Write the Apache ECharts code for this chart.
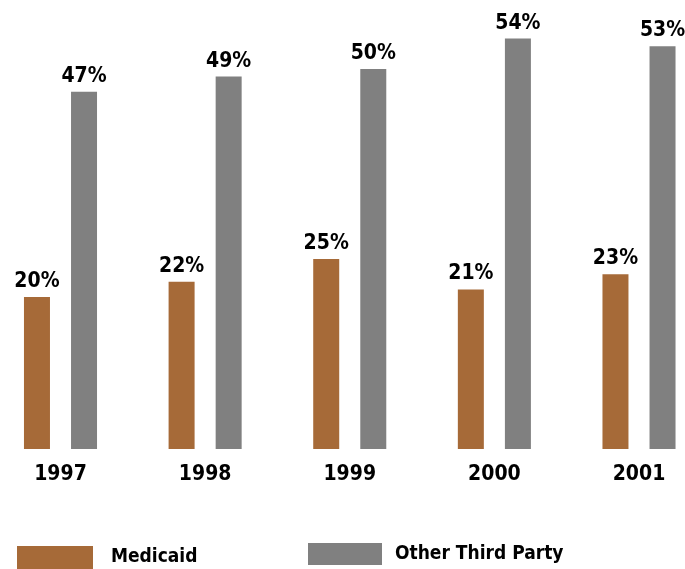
<!DOCTYPE html>
<html>
<head>
<meta charset="utf-8">
<script src="https://cdn.jsdelivr.net/npm/echarts@6/dist/echarts.min.js"></script>
<style>
  html, body { margin: 0; padding: 0; background: #ffffff; }
  #chart { width: 685px; height: 569px; }
</style>
</head>
<body>
<div id="chart"></div>
<script>
// Share of payments by source, per year (percent)
const years = ['1997', '1998', '1999', '2000', '2001'];
const medicaid = [20, 22, 25, 21, 23];
const otherThirdParty = [47, 49, 50, 54, 53];

const FONT = "'DejaVu Sans Condensed', 'Liberation Sans Narrow', sans-serif";
const BROWN = '#A66A38';
const GRAY = '#808080';

const chart = echarts.init(document.getElementById('chart'), null, { renderer: 'canvas' });

const valueLabel = {
  show: true,
  position: 'top',
  distance: 5,
  formatter: '{c}%',
  color: '#000',
  fontFamily: FONT,
  fontWeight: 'bold',
  fontSize: 21
};

chart.setOption({
  backgroundColor: '#ffffff',
  animation: false,
  // year groups sit on the axis ticks (boundaryGap off), first and last at the grid edges
  grid: { left: 60.5, right: 46, top: 31, bottom: 120 },
  xAxis: {
    type: 'category',
    data: years,
    boundaryGap: false,
    axisLine: { show: false },
    axisTick: { show: false },
    splitLine: { show: false },
    axisLabel: {
      margin: 15,
      color: '#000',
      fontFamily: FONT,
      fontWeight: 'bold',
      fontSize: 21
    }
  },
  yAxis: {
    type: 'value',
    min: 0,
    max: 55,
    show: false
  },
  legend: [
    {
      data: ['Medicaid'],
      left: 17,
      top: 546,
      padding: 0,
      itemWidth: 76,
      itemHeight: 23,
      icon: 'rect',
      textStyle: {
        color: '#000',
        fontFamily: FONT,
        fontWeight: 'bold',
        fontSize: 19,
        padding: [9, 0, 0, 13]
      }
    },
    {
      data: ['Other Third Party'],
      left: 308,
      top: 543,
      padding: 0,
      itemWidth: 74,
      itemHeight: 22,
      icon: 'rect',
      textStyle: {
        color: '#000',
        fontFamily: FONT,
        fontWeight: 'bold',
        fontSize: 19,
        padding: [7, 0, 0, 8]
      }
    }
  ],
  series: [
    {
      name: 'Medicaid',
      type: 'bar',
      data: medicaid,
      barWidth: 26,
      barGap: '81%',
      itemStyle: { color: BROWN },
      label: valueLabel
    },
    {
      name: 'Other Third Party',
      type: 'bar',
      data: otherThirdParty,
      barWidth: 26,
      itemStyle: { color: GRAY },
      label: valueLabel
    }
  ]
});
</script>
</body>
</html>
